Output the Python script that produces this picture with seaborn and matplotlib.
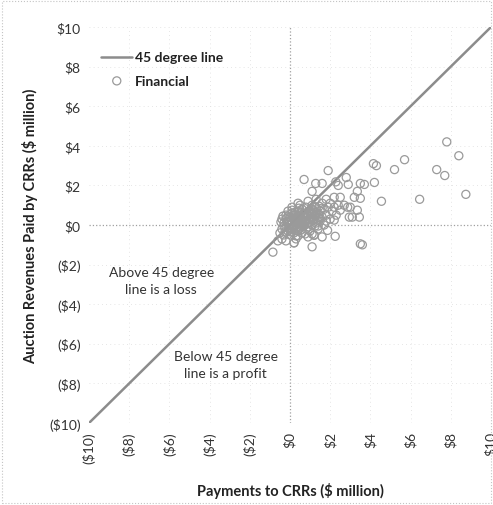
import numpy as np
import pandas as pd
import matplotlib.pyplot as plt
import seaborn as sns
from matplotlib.patches import Rectangle

# 45 degree reference line
line_x = [-10, 10]
line_y = [-10, 10]

# Financial CRRs: payments (x) vs auction revenues (y), $ million
fin_x = [7.8, 8.4, 8.75, 7.3, 7.7, 6.45, 5.7, 5.2, 4.3, 4.15, 4.55, 4.2, 3.7, 3.6,
         2.9, 1.9, 0.7, -0.85, 1.1, 2.25, 0.2, 1.1, 1.6, 2.4, 2.8, 3.35, 3.2, 2.95,
         3.45, 3.35, 2.5, 2.7, 2.2, 3.0, 1.1, 1.6, -0.2, 1.28, 2.28, 3.5, 2.87, 3.1,
         3.5, 1.2, 3.5, 1.87, 2.2, 2.5,
         -0.5, -0.4, -0.3, -0.3, -0.2, -0.2, -0.1, -0.1, 0.0, 0.0, 0.0, 0.1, 0.1, 0.1,
         0.2, 0.2, 0.2, 0.3, 0.3, 0.3, 0.4, 0.4, 0.4, 0.5, 0.5, 0.5, 0.6, 0.6, 0.6,
         0.7, 0.7, 0.7, 0.8, 0.8, 0.8, 0.9, 0.9, 1.0, 1.0, 1.0, 1.1, 1.1, 1.1, 1.2,
         1.2, 1.3, 1.3, 1.3, 1.4, 1.4, 1.5, 1.5, 1.6, 1.6, 1.7, 1.7, 1.8, 1.8, 1.9,
         2.0, 2.0, 2.1, 2.2, 2.3, 2.4, -0.6, -0.4, -0.2, 0.3, 0.9, 0.1, -0.1, 0.5,
         0.2, 1.2, 0.05, 0.15, 0.25, 0.35, 0.45, 0.55, 0.65, 0.75, 0.85, 0.95, 1.05,
         1.15, 1.25, 0.35, 0.65, -0.05, 0.55, 0.75, 1.45, 0.25, 0.9, 1.3, 0.4, -0.35,
         -0.45,
         -0.25, -0.15, -0.05, 0.05, 0.15, 0.25, 0.35, 0.45, 0.55, 0.65, 0.75, 0.85,
         0.95, 1.05, 1.15, 1.25, 1.35, 1.45, -0.3, -0.1, 0.1, 0.3, 0.5, 0.7, 0.9, 1.1,
         1.3, 1.5, 0.0, 0.2, 0.4, 0.6, 0.8, 1.0, 1.2, 1.4, 1.6, 1.8, -0.4, 0.45]
fin_y = [4.2, 3.5, 1.55, 2.8, 2.5, 1.3, 3.3, 2.8, 3.0, 3.1, 1.2, 2.15, 2.05, -1.0,
         2.05, 2.75, 2.3, -1.37, -1.1, -0.57, -0.9, 1.7, 2.1, 2.0, 2.4, 1.7, 1.4, 0.4,
         0.4, 0.75, 1.4, 1.0, 0.9, 0.9, -0.45, -0.6, 0.5, 2.1, 2.18, 2.1, 0.9, 0.4,
         1.35, -0.52, -0.95, -0.27, 0.25, 0.75,
         -0.4, -0.2, 0.1, -0.5, 0.3, -0.1, -0.3, 0.2, 0.0, -0.5, 0.4, 0.1, -0.2, 0.6,
         0.3, -0.1, -0.4, 0.0, 0.5, 0.2, -0.3, 0.3, 0.7, 0.1, -0.1, 0.5, 0.3, -0.4, 0.8,
         0.0, 0.4, 0.6, 0.2, -0.2, 0.9, 0.5, 0.1, 0.3, 0.7, -0.3, 0.5, 0.0, 1.0, 0.3,
         0.7, 0.1, 0.5, 0.9, 0.4, -0.2, 0.7, 0.2, 1.1, 0.4, 0.8, 0.0, 0.5, 1.3, 0.9,
         0.3, 1.1, 0.7, 1.4, 0.5, 1.0, -0.8, -0.7, -0.8, -0.7, -0.6, 0.9, 0.7, 1.0,
         -0.9, -0.5, 0.25, -0.05, 0.15, -0.15, 0.45, 0.25, 0.05, 0.25, 0.45, 0.25, 0.55,
         0.25, 0.45, 0.35, 0.55, 0.05, -0.25, -0.45, 0.95, 0.65, 1.2, 1.3, 1.1, 0.45,
         0.15,
         -0.35, 0.15, -0.15, -0.35, 0.35, -0.25, 0.05, 0.15, 0.65, -0.05, 0.45, 0.05,
         0.65, 0.35, 0.75, -0.05, 0.25, 0.55, -0.05, 0.45, 0.75, -0.55, -0.15, 0.15,
         -0.1, 0.8, 0.6, 0.35, -0.2, 0.5, -0.55, 0.05, 0.6, 0.15, 0.9, -0.05, 0.85, 0.2,
         0.3, 0.85]

ticks = [-10, -8, -6, -4, -2, 0, 2, 4, 6, 8, 10]


def money(v):
    return f"${v}" if v >= 0 else f"(${-v})"


sns.set_style("white")
plt.rcParams['font.family'] = ['Lato', 'DejaVu Sans']

fig = plt.figure(figsize=(4.93, 5.06), dpi=100)
ax = fig.add_axes([0.1805, 0.162, 0.8154, 0.7826])

# chart border (dotted)
fig.patches.append(Rectangle((0.004, 0.004), 0.992, 0.992, transform=fig.transFigure,
                             fill=False, edgecolor='#c4c4c4', linestyle=':', lw=0.8))

# faint grid + zero axes
for t in ticks:
    if t in (-10, 0):
        continue
    ax.axvline(t, color='#dddddd', ls=(0, (1, 4)), lw=0.6, zorder=0)
    ax.axhline(t, color='#dddddd', ls=(0, (1, 4)), lw=0.6, zorder=0)
ax.axvline(0, color='#a0a0a0', ls=':', lw=0.9, zorder=0)
ax.axhline(0, color='#a0a0a0', ls=':', lw=0.9, zorder=0)

sns.lineplot(x=line_x, y=line_y, ax=ax, color='#8c8c8c', lw=1.8, label='45 degree line', zorder=2)
sns.scatterplot(x=fin_x, y=fin_y, ax=ax, s=34, facecolor='none', edgecolor='#9a9a9a',
                linewidth=0.9, label='Financial', zorder=3)

ax.set_xlim(-10, 10)
ax.set_ylim(-10, 10)
ax.set_xticks(ticks)
ax.set_yticks(ticks)
ax.set_xticklabels([money(t) for t in ticks], rotation=90, fontsize=10, color='#333333')
ax.set_yticklabels([money(t) for t in ticks], fontsize=10, color='#333333')
ax.tick_params(length=0, pad=6)
sns.despine(ax=ax, left=True, bottom=True)

ax.set_xlabel('Payments to CRRs ($ million)', fontsize=10.5, fontweight='bold', color='#222222', labelpad=14)
ax.set_ylabel('Auction Revenues Paid by CRRs ($ million)', fontsize=10.5, fontweight='bold',
              color='#222222', labelpad=8)

ax.text(-6.4, -2.8, 'Above 45 degree\nline is a loss', ha='center', va='center', fontsize=10,
        color='#333333', linespacing=1.5)
ax.text(-3.2, -7.05, 'Below 45 degree\nline is a profit', ha='center', va='center', fontsize=10,
        color='#333333', linespacing=1.5)

leg = ax.legend(loc='upper left', bbox_to_anchor=(0.0, 0.97), frameon=False, fontsize=10,
                handlelength=2.2, handletextpad=0.2, labelspacing=0.8)
for txt in leg.get_texts():
    txt.set_fontweight('bold')
    txt.set_color('#222222')

fig.savefig('out.png', dpi=100)
